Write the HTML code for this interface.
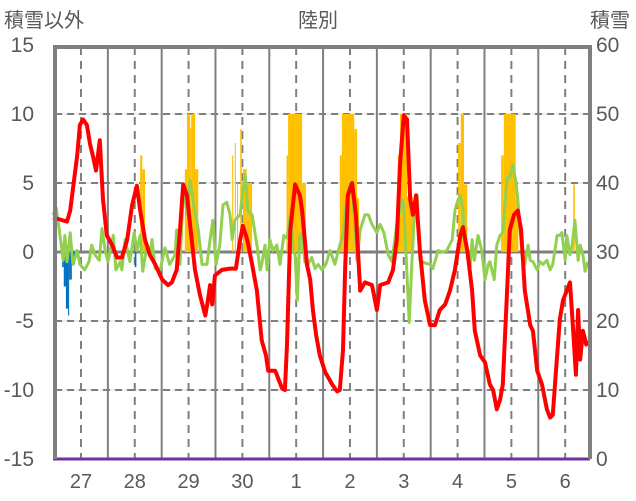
<!DOCTYPE html>
<html><head><meta charset="utf-8">
<style>
body{margin:0;background:#fff;}
svg{display:block;font-family:"Liberation Sans","Noto Sans CJK JP",sans-serif;}
</style></head>
<body>
<svg id="chart" width="636" height="501" viewBox="0 0 636 501" xmlns="http://www.w3.org/2000/svg">
<text x="4" y="27" font-size="20" fill="#595959">積雪以外</text>
<text x="318" y="27" font-size="20" fill="#595959" text-anchor="middle">陸別</text>
<text x="630" y="27" font-size="20" fill="#595959" text-anchor="end">積雪</text>
<g id="grid"></g>
<g id="bars"></g>
<g id="lines"></g>
<g id="axes"></g>
</svg>
<script>
// time in days since chart start; values on left axis
const dayLabels = ["27","28","29","30","1","2","3","4","5","6"];
const leftTicks = [15,10,5,0,-5,-10,-15];
const rightTicks = [60,50,40,30,20,10,0];
const redT = [0,0.26,0.32,0.45,0.5,0.56,0.63,0.69,0.74,0.8,0.87,0.93,1,1.1,1.19,1.28,1.38,1.47,1.56,1.62,1.71,1.8,1.9,2.03,2.14,2.21,2.3,2.36,2.42,2.49,2.55,2.64,2.73,2.83,2.88,2.92,2.96,3.01,3.14,3.29,3.4,3.48,3.53,3.61,3.7,3.79,3.88,3.96,4,4.13,4.18,4.26,4.31,4.35,4.41,4.5,4.59,4.63,4.68,4.72,4.78,4.83,4.89,4.96,5.06,5.19,5.28,5.33,5.39,5.43,5.48,5.56,5.63,5.71,5.8,5.93,6.02,6.08,6.23,6.32,6.39,6.45,6.52,6.58,6.64,6.69,6.75,6.82,6.91,7.01,7.1,7.19,7.29,7.38,7.47,7.57,7.62,7.7,7.79,7.84,7.94,8.03,8.12,8.18,8.25,8.31,8.36,8.44,8.49,8.57,8.64,8.7,8.77,8.87,8.92,9,9.09,9.18,9.24,9.29,9.35,9.42,9.48,9.55,9.61,9.67,9.72,9.76,9.8,9.85,9.91,9.94];
const redV = [2.5,2.2,3.0,7.0,9.2,9.6,9.2,7.8,7.0,5.9,8.1,3.8,1.2,0.5,-0.4,-0.4,0.9,3.4,4.8,3.0,0.9,-0.2,-0.9,-2.0,-2.4,-2.2,-1.3,1.6,4.9,4.1,1.9,-1.3,-3.1,-4.6,-3.5,-2.4,-3.8,-1.7,-1.3,-1.2,-1.2,0.9,1.9,0.9,-0.9,-2.8,-6.4,-7.5,-8.6,-8.6,-9.1,-9.9,-10.0,-6.7,1.6,4.9,4.1,3.0,0.9,-0.9,-2.0,-4.2,-6.0,-7.5,-8.7,-9.6,-10.1,-10.0,-7.1,-1.3,4.1,5.0,2.7,-2.8,-2.2,-2.4,-4.2,-2.4,-2.2,-1.3,0.9,6.3,9.9,9.6,3.8,2.7,4.1,0.1,-3.5,-5.3,-5.3,-4.2,-3.8,-2.8,-1.3,1.2,1.8,0.1,-2.8,-5.7,-7.5,-8.0,-9.6,-10.0,-11.4,-10.7,-9.6,-2.8,1.6,2.7,3.0,1.6,-2.8,-5.3,-5.7,-8.6,-9.6,-11.4,-12.0,-11.8,-8.6,-4.9,-3.5,-2.8,-2.2,-5.7,-8.9,-4.2,-7.8,-5.7,-6.7,-6.4];
const greenT = [0,0.06,0.13,0.19,0.22,0.26,0.32,0.37,0.45,0.5,0.59,0.67,0.72,0.78,0.86,0.91,0.97,1.02,1.12,1.17,1.25,1.28,1.34,1.43,1.51,1.56,1.62,1.67,1.75,1.8,1.84,1.9,1.99,2.08,2.17,2.27,2.3,2.36,2.43,2.49,2.55,2.6,2.7,2.77,2.86,2.92,2.97,3.03,3.1,3.16,3.23,3.29,3.33,3.38,3.48,3.53,3.57,3.62,3.7,3.79,3.85,3.88,3.94,3.98,4.03,4.09,4.16,4.22,4.29,4.35,4.42,4.46,4.5,4.54,4.59,4.63,4.68,4.74,4.81,4.87,4.93,5,5.07,5.15,5.24,5.33,5.39,5.43,5.48,5.52,5.58,5.65,5.71,5.8,5.86,5.93,6.02,6.08,6.15,6.23,6.3,6.39,6.49,6.52,6.56,6.62,6.67,6.73,6.77,6.82,6.91,7.01,7.06,7.16,7.25,7.32,7.42,7.47,7.53,7.57,7.62,7.64,7.7,7.75,7.79,7.83,7.9,7.97,8.03,8.09,8.12,8.2,8.25,8.31,8.36,8.44,8.49,8.55,8.61,8.64,8.68,8.74,8.77,8.83,8.87,8.92,9,9.05,9.11,9.18,9.24,9.29,9.37,9.42,9.46,9.52,9.55,9.61,9.65,9.7,9.76,9.8,9.85,9.89,9.94];
const greenV = [2.7,3.2,1.2,-0.6,1.2,-0.7,1.4,-0.9,0.1,-0.9,-1.3,-0.7,0.5,-0.2,-0.6,1.7,0.1,-0.7,1.2,-1.3,-0.7,-1.3,0.9,-0.7,1.4,0.1,1.2,-1.4,0.5,-0.3,0.9,-1.2,-1.3,0.3,-0.9,-0.2,1.6,-0.9,4.9,2.7,5.2,3.8,1.6,-0.9,-0.9,0.9,2.3,-0.9,0.5,3.4,3.6,2.7,0.9,2.3,2.7,4.5,5.6,3.0,2.7,0.5,-1.3,-0.9,0.5,-1.3,0.9,0.1,0.5,-0.9,1.2,1.0,3.0,0.1,-0.2,-3.5,1.2,1.4,-0.7,-0.9,-0.4,-1.2,-0.9,-1.3,-0.9,0.1,-0.9,0.5,1.2,3.0,4.1,4.9,3.8,-0.6,1.6,2.7,2.7,2.0,1.4,2.0,1.4,-0.2,-0.7,2.0,3.8,3.4,0.1,-5.1,-0.9,3.8,4.1,-0.6,-0.8,-0.9,-1.2,0.1,0,0.1,0.9,3.0,3.8,4.1,3.0,0.9,0.1,-1.3,0.9,-0.6,1.2,0.1,-2.0,-0.9,-0.7,-2.0,0.5,1.2,1.4,5.4,5.4,6.3,4.9,3.8,1.6,-0.9,-0.9,0.5,-0.6,-0.7,-1.3,-0.7,-0.9,-0.6,-1.3,-0.9,1.2,1.2,1.4,-0.6,1.2,-0.2,0.5,2.3,-0.6,0.5,-0.2,-1.4,-0.7];
// snowfall-type bars (yellow): start day, end day, value
const snowStart = [1.62,1.66,2.45,2.49,2.55,2.57,2.64,3.33,3.38,3.42,3.48,3.53,3.6,3.66,4.34,4.37,4.59,4.63,5.33,5.37,5.6,5.65,6.41,6.45,6.58,7.53,7.58,7.64,8.33,8.38,8.6,9.67];
const snowEnd   = [1.66,1.71,2.49,2.55,2.57,2.64,2.7,3.35,3.4,3.44,3.51,3.6,3.66,3.7,4.37,4.59,4.63,4.7,5.37,5.6,5.65,5.69,6.45,6.58,6.69,7.58,7.64,7.7,8.38,8.6,8.65,9.7];
const snowVal   = [7,6,6,10,9,10,6,7,7.9,5,8.9,6,5,5,7,10,10,5,7,10,8.9,3.9,7,10,4,7.9,10,4.9,7,10,3.9,4.9];
// negative bars (blue)
const coldStart = [0.17,0.2,0.24,0.28,0.3,0.35,1.52,2.31];
const coldEnd   = [0.2,0.24,0.28,0.3,0.35,0.41,1.55,2.34];
const coldVal   = [-1.1,-2.5,-4.1,-4.6,-2.0,-0.9,-1.1,-0.4];
const depthT = [0,9.98];
const depthV = [0,0];

const X0=53, DAY=53.8, Y0=252, U=13.8;
function xs(d){return X0+d*DAY;}
function yL(v){return Y0-v*U;}
function yR(v){return 459-v*(414/60);}
const NS="http://www.w3.org/2000/svg";
function mk(tag,attrs,parent){const e=document.createElementNS(NS,tag);for(const k in attrs)e.setAttribute(k,attrs[k]);parent.appendChild(e);return e;}
const grid=document.getElementById('grid'),bars=document.getElementById('bars'),lines=document.getElementById('lines'),axes=document.getElementById('axes');

// horizontal grid
[10,5,-5,-10].forEach(v=>{
  const l=mk('line',{x1:55,x2:590,y1:yL(v),y2:yL(v),stroke:'#d9d9d9','stroke-width':1},grid);
  
  
  const d=mk('line',{x1:55,x2:590,y1:yL(v),y2:yL(v),stroke:'#7f7f7f','stroke-width':2,'stroke-dasharray':'7,5'},grid);
  
  
});
// vertical lines
for(let i=0;i<dayLabels.length;i++){
  const dx=xs(0.52+i);
  const d=mk('line',{x1:dx,x2:dx,y1:47,y2:459,stroke:'#7f7f7f','stroke-width':2,'stroke-dasharray':'8,6'},grid);
  
  
  if(i<dayLabels.length-1){
    const sx=xs(1.02+i);
    const s=mk('line',{x1:sx,x2:sx,y1:47,y2:459,stroke:'#7f7f7f','stroke-width':2},grid);
    
    
  }
  const t=mk('text',{x:dx,y:488,'font-size':20,fill:'#595959','text-anchor':'middle'},axes);
  t.textContent=dayLabels[i];
  
  
}
// bars
for(let i=0;i<snowVal.length;i++){
  const r=mk('rect',{x:xs(snowStart[i]),y:yL(snowVal[i]),width:xs(snowEnd[i])-xs(snowStart[i]),height:Y0-yL(snowVal[i]),fill:'#ffc000'},bars);
  
  
}
for(let i=0;i<coldVal.length;i++){
  const r=mk('rect',{x:xs(coldStart[i]),y:Y0,width:xs(coldEnd[i])-xs(coldStart[i]),height:yL(coldVal[i])-Y0,fill:'#0070c0'},bars);
  
  
}
// zero line
const z=mk('line',{x1:55,x2:590,y1:Y0,y2:Y0,stroke:'#7f7f7f','stroke-width':3},grid);


// series
function pts(T,V,f){return T.map((t,i)=>xs(t).toFixed(1)+','+f(V[i]).toFixed(1)).join(' ');}
const g=mk('polyline',{points:pts(greenT,greenV,yL),fill:'none',stroke:'#92d050','stroke-width':3,'stroke-linejoin':'round'},lines);


const r=mk('polyline',{points:pts(redT,redV,yL),fill:'none',stroke:'#ff0000','stroke-width':4,'stroke-linejoin':'round'},lines);


// frame
const fr=mk('polyline',{points:'55,459 55,47 590,47 590,459',fill:'none',stroke:'#7f7f7f','stroke-width':4},axes);


const p=mk('polyline',{points:pts(depthT,depthV,yR),fill:'none',stroke:'#7030a0','stroke-width':3},lines);


// tick labels
leftTicks.forEach(v=>{
  const t=mk('text',{x:34,y:yL(v)+7,'font-size':21,fill:'#595959','text-anchor':'end'},axes);
  t.textContent=v;
  
  
});
rightTicks.forEach(v=>{
  const t=mk('text',{x:596,y:yR(v)+7,'font-size':21,fill:'#595959'},axes);
  t.textContent=v;
  
  
});
</script>
</body></html>
